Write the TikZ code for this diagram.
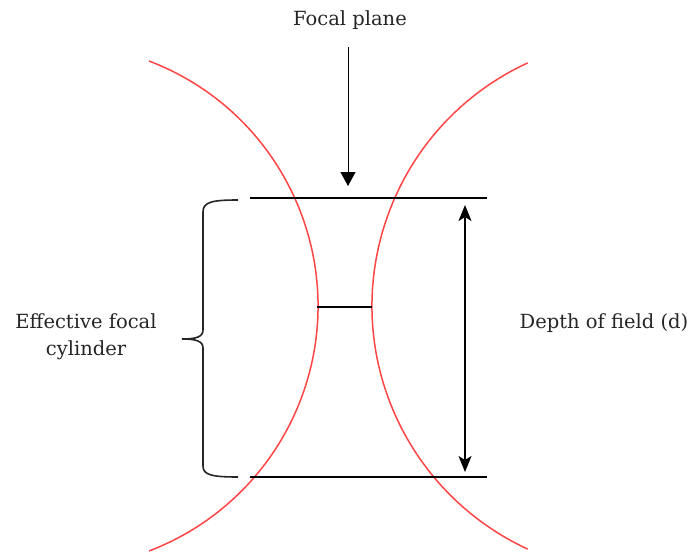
\documentclass[tikz,border=0pt]{standalone}
\usepackage{fontspec}
\setmainfont{DejaVu Serif}
\usetikzlibrary{arrows.meta}
\definecolor{arcred}{RGB}{255,70,70}
\tikzset{
  lbl/.style={font=\fontsize{19.5}{24}\selectfont, text=black!85, inner sep=0pt, align=center},
  arc/.style={draw=arcred, line width=1.5pt},
  bar/.style={draw=black, line width=1.6pt},
}
\begin{document}
\begin{tikzpicture}[x=1pt,y=-1pt]
\useasboundingbox (0,0) rectangle (696,552);
\fill[white] (0,0) rectangle (696,552);
% red arcs
\coordinate (lc) at (55.9,306);
\coordinate (rc) at (639.6,306);
\draw[arc] (lc) ++(-69.2:262.1) arc[start angle=-69.2, end angle=69.2, radius=262.1];
\draw[arc] (rc) ++(245.3:267.6) arc[start angle=245.3, end angle=114.7, radius=267.6];
% horizontal lines
\coordinate (tl) at (250,198);
\coordinate (tr) at (487,198);
\coordinate (bl) at (250,477);
\coordinate (br) at (487,477);
\coordinate (ml) at (317,307);
\coordinate (mr) at (372,307);
\draw[bar] (tl) -- (tr);
\draw[bar] (bl) -- (br);
\draw[bar] (ml) -- (mr);
% focal plane label and arrow
\node[lbl] (fp) at (350,20) {Focal plane};
\coordinate (fpt) at (348,186);
\draw[line width=0.8pt, -{Triangle[length=14pt,width=15pt]}] (348,47) -- (fpt);
% depth of field arrow
\coordinate (dt) at (465,205);
\coordinate (db) at (465,472);
\draw[line width=1.6pt, {Stealth[length=16pt,width=13pt,inset=4pt]}-{Stealth[length=16pt,width=13pt,inset=4pt]}] (dt) -- (db);
\node[lbl] (dof) at (604,323) {Depth of field (d)};
% brace
\draw[line width=1.6pt, draw=black!85] (238,200) .. controls (212,200) and (203,202) .. (203,212)
  -- (203,330) .. controls (203,337) and (196,339) .. (182,339)
  .. controls (196,339) and (203,341) .. (203,348)
  -- (203,466) .. controls (203,475) and (212,477) .. (238,477);
\node[lbl] (efc) at (86,337) {Effective focal\\[3pt]cylinder};
\end{tikzpicture}
\end{document}
